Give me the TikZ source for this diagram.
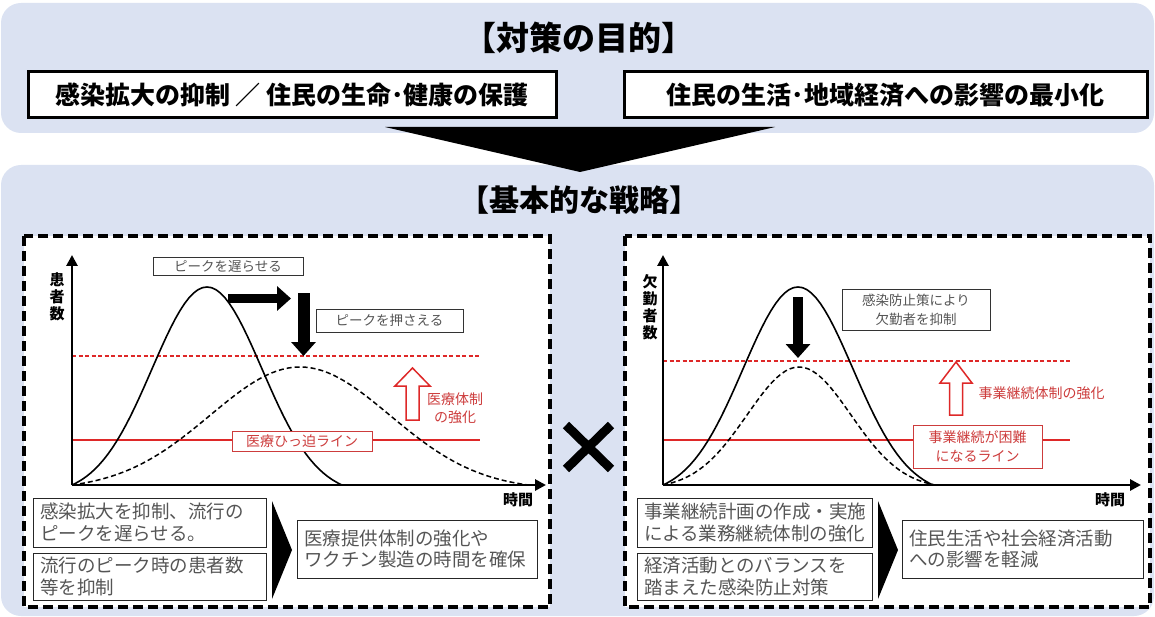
\documentclass[tikz,border=0pt]{standalone}
\usepackage{fontspec}
\setmainfont{Noto Sans CJK JP}
\usetikzlibrary{arrows.meta,positioning}
\definecolor{panelblue}{RGB}{219,226,242}
\definecolor{linered}{RGB}{222,40,40}
\definecolor{labelred}{RGB}{205,60,60}
\definecolor{textgray}{RGB}{85,85,85}
\begin{document}
\begin{tikzpicture}[x=1pt,y=-1pt,
  panel/.style={fill=panelblue,rounded corners=20pt},
  heading/.style={font=\bfseries\fontsize{#1}{34}\selectfont},
  goalbox/.style={draw,line width=3pt,fill=white,inner sep=0pt,font=\bfseries\fontsize{25}{28}\selectfont},
  frame/.style={draw,line width=3.2pt,dash pattern=on 10pt off 5pt,fill=white},
  axis/.style={line width=2.8pt,-{Triangle[length=11pt,width=11pt]}},
  vlabel/.style={align=center,font=\bfseries\fontsize{15}{17}\selectfont},
  tlabel/.style={font=\bfseries\fontsize{15}{17}\selectfont},
  tagbox/.style={draw=black!80,line width=0.8pt,fill=white,text=textgray,inner sep=0pt,align=center,font=\fontsize{13.5}{19}\selectfont},
  redbox/.style={draw=labelred,line width=0.9pt,fill=white,text=labelred,inner sep=0pt,align=center,font=\fontsize{14}{19}\selectfont},
  redtext/.style={text=labelred,align=center,font=\fontsize{14}{18}\selectfont},
  limit/.style={linered,line width=1.4pt},
  raised/.style={linered,line width=1.4pt,dash pattern=on 4pt off 2.5pt},
  curve/.style={line width=1.6pt},
  reduced/.style={line width=1.5pt,dash pattern=on 5pt off 3pt},
  push/.style={line width=#1,-{Triangle[length=14pt,width=24pt]}},
  hollow/.style={linered,line width=1.5pt,fill=white,line join=miter},
  notebox/.style={draw=black!85,line width=0.9pt,fill=white,text=textgray,inner xsep=7pt,inner ysep=0pt,align=left,font=\fontsize{18.5}{21.5}\selectfont},
  result/.style={notebox,minimum height=58pt}]
\useasboundingbox (0,0) rectangle (1155,617);
% purpose
\fill[panel] (1,3) rectangle (1154,133);
\node[heading=33] (goal) at (579,38) {【対策の目的】};
\node[goalbox,minimum width=528pt,minimum height=46pt] (protect) at (292,95) {感染拡大の抑制 ／ 住民の生命･健康の保護};
\node[goalbox,minimum width=523pt,minimum height=46pt] (economy) at (885.5,95) {住民の生活･地域経済への影響の最小化};
% strategy
\fill[panel] (1,165) rectangle (1154,616);
\fill (385,127) -- (775,127) -- (580,172) -- cycle;
\node[heading=30] (strategy) at (579,200) {【基本的な戦略】};
\draw[frame] (24,236) rectangle (550,607);
\draw[frame] (625,236) rectangle (1150,607);
\draw[line width=9pt] (566,425) -- (611,469) (566,469) -- (611,425);

% patients
\coordinate (O1) at (72,485);
\draw[limit] (O1 |- 0,440) -- (480,440);
\draw[raised] (O1 |- 0,356) -- (480,356);
\draw[curve] plot[domain=-1.35:1.35,samples=61] ({207+100*\x},{485-198*(exp(-(\x*\x)/0.605)-0.0492)/0.9508});
\draw[reduced] plot[domain=-2.28:2.27,samples=81] ({300+100*\x},{485-118*(exp(-(\x*\x)/1.62)-0.0404)/0.9596});
\draw[axis] (O1) -- (72,255);
\draw[axis] (O1) -- (546,485);
\node[vlabel] (patients) at (57,297) {患\\者\\数};
\node[tlabel] (time1) at (518,500) {時間};
\node[tagbox,minimum width=150pt,minimum height=18pt] (delay) at (228,266) {ピークを遅らせる};
\node[tagbox,minimum width=147pt,minimum height=23pt] (flatten) at (389.5,320.5) {ピークを押さえる};
\coordinate (shiftA) at (228,298.5);
\coordinate (shiftB) at (291,298.5);
\draw[push=9pt] (shiftA) -- (shiftB);
\coordinate (lowerA) at (303.5,293);
\coordinate (lowerB) at (303.5,356);
\draw[push=12pt] (lowerA) -- (lowerB);
\draw[hollow] (412.5,368) -- (430,386) -- (419,386) -- (419,420) -- (406,420) -- (406,386) -- (395,386) -- cycle;
\node[redtext] (care) at (455,408) {医療体制\\の強化};
\node[redbox,minimum width=140pt,minimum height=20pt] (tight) at (302,441) {医療ひっ迫ライン};
\node[notebox,minimum width=233pt,minimum height=49pt,text width=219pt] (curb) at (149.5,522.5) {感染拡大を抑制、流行の\\ピークを遅らせる。};
\node[notebox,minimum width=233pt,minimum height=47pt,text width=219pt] (cap) at (149.5,576.5) {流行のピーク時の患者数\\等を抑制};
\fill (272,501) -- (292,550) -- (272,599) -- cycle;
\node[result,minimum width=240pt,text width=226pt] (gain) at (417,549) {医療提供体制の強化や\\ワクチン製造の時間を確保};

% absentees
\coordinate (O2) at (663,485);
\draw[limit] (O2 |- 0,440) -- (1070,440);
\draw[raised] (O2 |- 0,361) -- (1070,361);
\draw[curve] plot[domain=-1.35:1.35,samples=61] ({798+100*\x},{485-198*(exp(-(\x*\x)/0.605)-0.0492)/0.9508});
\draw[reduced] plot[domain=-1.36:1.36,samples=61] ({799+100*\x},{485-118*(exp(-(\x*\x)/0.5408)-0.0327)/0.9673});
\draw[axis] (O2) -- (663,255);
\draw[axis] (O2) -- (1141,485);
\node[vlabel] (absent) at (650,307) {欠\\勤\\者\\数};
\node[tlabel] (time2) at (1110,500) {時間};
\node[tagbox,minimum width=148pt,minimum height=41pt] (prevent) at (916,309.5) {感染防止策により\\欠勤者を抑制};
\coordinate (cutA) at (798,297);
\coordinate (cutB) at (798,358);
\draw[push=10pt] (cutA) -- (cutB);
\draw[hollow] (956,362) -- (972,383) -- (962.5,383) -- (962.5,415) -- (949.5,415) -- (949.5,383) -- (940,383) -- cycle;
\node[redtext,anchor=west] (bcp) at (975,393) {事業継続体制の強化};
\node[redbox,minimum width=129pt,minimum height=43pt] (hard) at (977.5,446.5) {事業継続が困難\\になるライン};
\node[notebox,minimum width=235pt,minimum height=49pt,text width=221pt] (plan) at (754.5,522.5) {事業継続計画の作成・実施\\による業務継続体制の強化};
\node[notebox,minimum width=235pt,minimum height=47pt,text width=221pt] (balance) at (754.5,576.5) {経済活動とのバランスを\\踏まえた感染防止対策};
\fill (878,501) -- (898,550) -- (878,599) -- cycle;
\node[result,minimum width=241pt,text width=227pt] (relief) at (1022.5,549) {住民生活や社会経済活動\\への影響を軽減};
\end{tikzpicture}
\end{document}
